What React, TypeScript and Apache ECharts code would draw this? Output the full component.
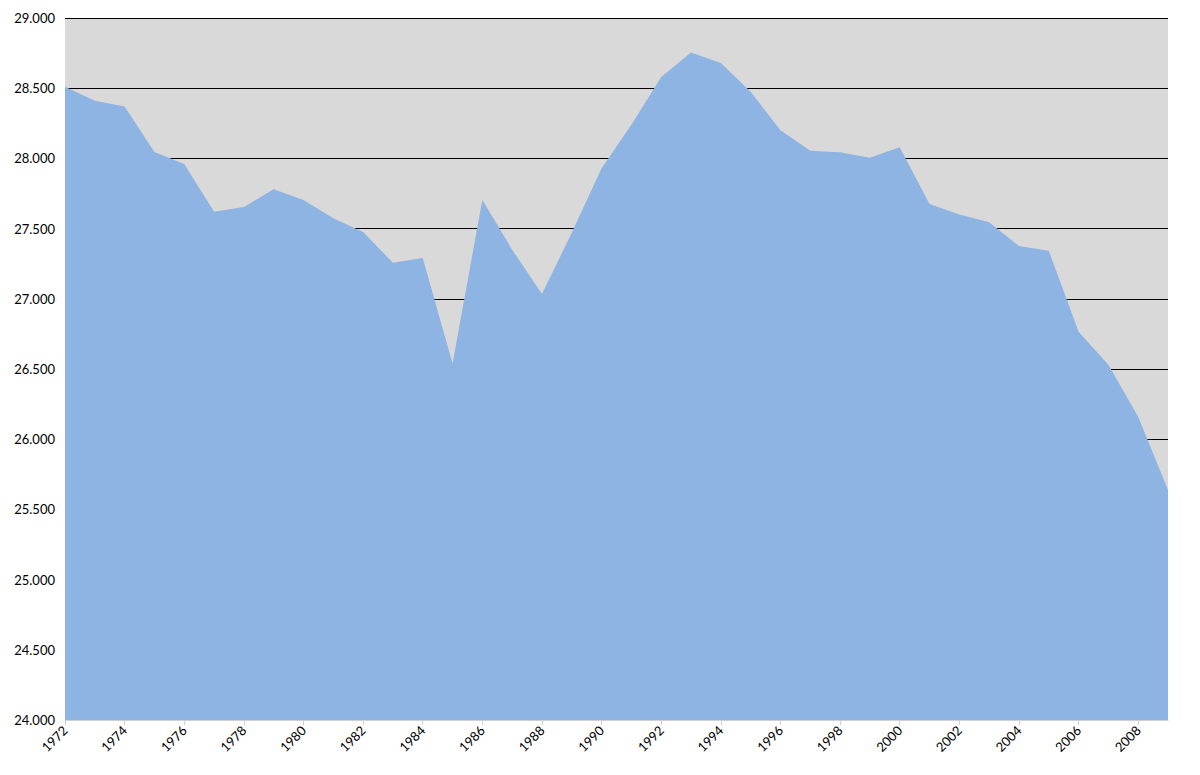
import React, { useEffect, useRef } from "react";
import * as echarts from "echarts";

const years: string[] = [];
for (let y = 1972; y <= 2009; y++) years.push(String(y));

const values = [
  28510, 28410, 28370, 28045, 27960, 27620, 27654, 27780, 27704, 27573,
  27476, 27257, 27290, 26540, 27704, 27350, 27034, 27470, 27930, 28240,
  28580, 28755, 28680, 28475, 28200, 28055, 28043, 28005, 28080, 27675,
  27600, 27545, 27376, 27343, 26766, 26530, 26160, 25638,
];

const yMin = 24000;
const yMax = 29000;
const yStep = 500;

export default function App() {
  const ref = useRef<HTMLDivElement>(null);
  useEffect(() => {
    document.body.style.margin = "0";
    const chart = echarts.init(ref.current!, undefined, { renderer: "svg" });
    chart.setOption({
      animation: false,
      backgroundColor: "#ffffff",
      grid: {
        left: 65,
        right: 32,
        top: 18,
        bottom: 55,
        show: true,
        backgroundColor: "#d9d9d9",
        borderWidth: 0,
      },
      xAxis: {
        type: "category",
        data: years,
        boundaryGap: false,
        axisLine: { show: true, lineStyle: { color: "#d0d0d0", width: 1 } },
        axisTick: { show: true, interval: 1, length: 5, lineStyle: { color: "#d0d0d0" } },
        axisLabel: {
          interval: 1,
          rotate: 45,
          fontFamily: "Lato, 'Open Sans', sans-serif",
          fontSize: 13,
          color: "#000",
          margin: 8,
        },
        splitLine: { show: false },
      },
      yAxis: {
        type: "value",
        min: yMin,
        max: yMax,
        interval: yStep,
        axisLine: { show: false },
        axisTick: { show: false },
        axisLabel: {
          fontFamily: "Lato, 'Open Sans', sans-serif",
          fontSize: 13,
          color: "#000",
          margin: 10,
          formatter: (v: number) => (v / 1000).toFixed(3),
        },
        splitLine: { show: true, lineStyle: { color: "#000", width: 1 } },
      },
      series: [
        {
          type: "line",
          data: values,
          symbol: "none",
          lineStyle: { width: 0 },
          areaStyle: { color: "#8eb4e3", opacity: 1, origin: "start" },
        },
      ],
    });
    return () => chart.dispose();
  }, []);
  return <div ref={ref} style={{ width: 1200, height: 775 }} />;
}
